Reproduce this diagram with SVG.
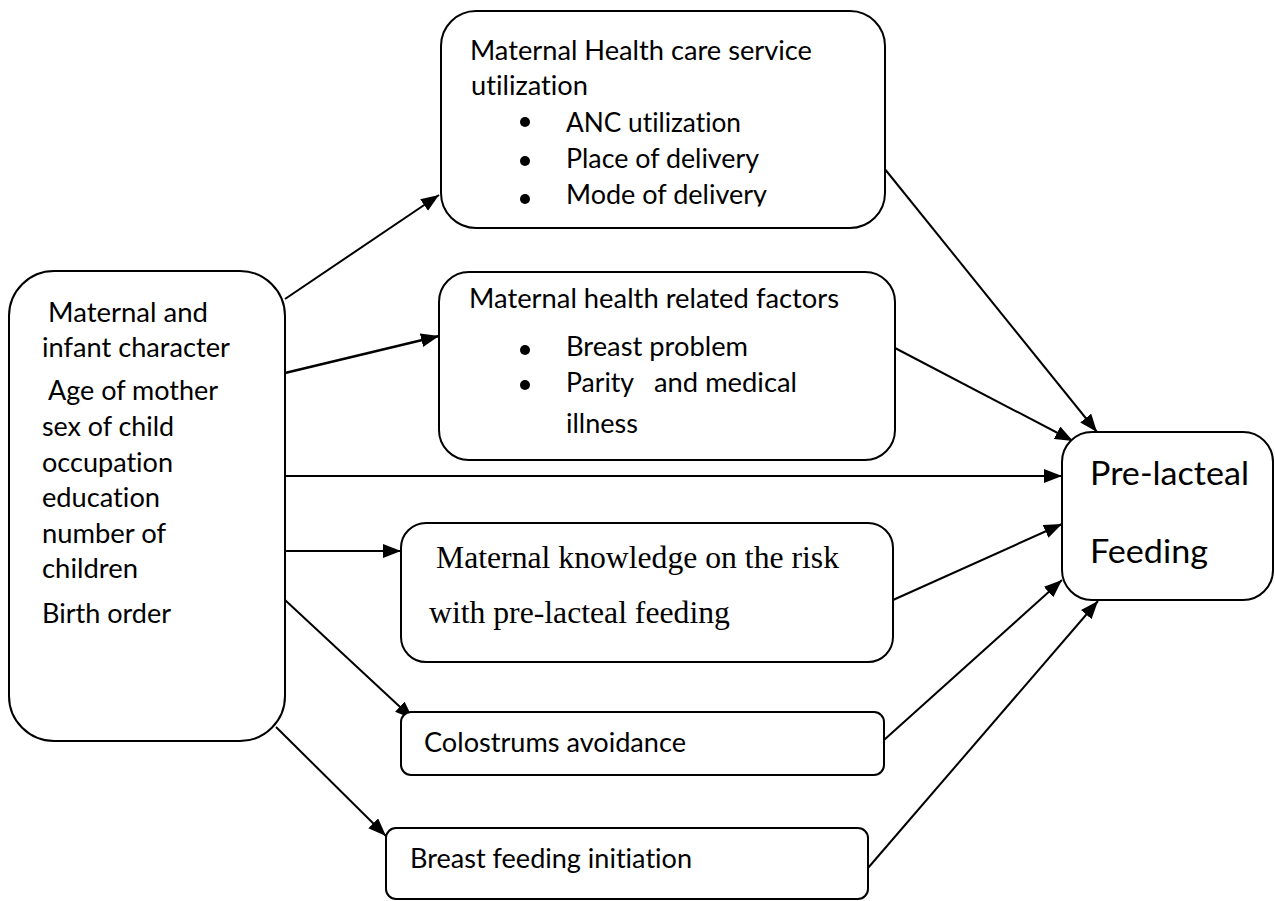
<svg xmlns="http://www.w3.org/2000/svg" width="1275" height="901" viewBox="0 0 1275 901">
<style>
.box{fill:#fff;stroke:#000;stroke-width:2}
.t{font-family:Lato,"Liberation Sans",sans-serif;font-size:26px;fill:#000;font-variant-ligatures:none;font-feature-settings:"liga" 0,"clig" 0,"dlig" 0}
.big{font-family:Lato,"Liberation Sans",sans-serif;font-size:33px;fill:#000;font-variant-ligatures:none;font-feature-settings:"liga" 0,"clig" 0}
.serif{font-family:"Liberation Serif","Times New Roman",serif;font-size:31.7px;fill:#000}
.c{stroke:#000;stroke-width:2;fill:none;marker-end:url(#ah)}
.dot{fill:#000}
</style>
<defs>
<marker id="ah" markerUnits="userSpaceOnUse" markerWidth="18" markerHeight="14" viewBox="0 0 18 14" refX="18" refY="7" orient="auto">
<path d="M0,0 L18,7 L0,14 z" fill="#000"/>
</marker>
<clipPath id="clipMode"><rect x="440" y="180" width="440" height="26.5"/></clipPath>
</defs>
<rect width="1275" height="901" fill="#fff"/>

<g id="connectors">
<line class="c" x1="285" y1="299" x2="439" y2="195"/>
<line class="c" x1="285" y1="373" x2="439" y2="336" style="stroke-width:2.5"/>
<line class="c" x1="285" y1="476" x2="1062" y2="476"/>
<line class="c" x1="285" y1="551" x2="401" y2="551"/>
<line class="c" x1="285" y1="600" x2="413" y2="719"/>
<line class="c" x1="276" y1="727" x2="386" y2="836"/>
<line class="c" x1="884" y1="168" x2="1097" y2="432"/>
<line class="c" x1="895" y1="348" x2="1073" y2="441"/>
<line class="c" x1="893" y1="600" x2="1062" y2="524"/>
<line class="c" x1="884" y1="740" x2="1062" y2="580"/>
<line class="c" x1="868" y1="868" x2="1098" y2="601"/>
</g>

<g id="maternal-infant">
<rect class="box" x="9" y="271" width="276" height="470" rx="45"/>
<text class="t" x="48" y="322" textLength="160" lengthAdjust="spacingAndGlyphs">Maternal and</text>
<text class="t" x="42" y="357" textLength="188" lengthAdjust="spacingAndGlyphs">infant character</text>
<text class="t" x="48" y="400" textLength="170" lengthAdjust="spacingAndGlyphs">Age of mother</text>
<text class="t" x="42" y="436" textLength="132" lengthAdjust="spacingAndGlyphs">sex of child</text>
<text class="t" x="42" y="472" textLength="131" lengthAdjust="spacingAndGlyphs">occupation</text>
<text class="t" x="42" y="507" textLength="118" lengthAdjust="spacingAndGlyphs">education</text>
<text class="t" x="42" y="543" textLength="124" lengthAdjust="spacingAndGlyphs">number of</text>
<text class="t" x="42" y="578" textLength="96" lengthAdjust="spacingAndGlyphs">children</text>
<text class="t" x="42" y="623" textLength="129" lengthAdjust="spacingAndGlyphs">Birth order</text>
</g>

<g id="health-care-service">
<rect class="box" x="441" y="11" width="444" height="217" rx="35"/>
<text class="t" x="470" y="60" textLength="342" lengthAdjust="spacingAndGlyphs">Maternal Health care service</text>
<text class="t" x="471" y="95" textLength="117" lengthAdjust="spacingAndGlyphs">utilization</text>
<circle class="dot" cx="525" cy="122" r="5"/>
<text class="t" x="566" y="132" textLength="175" lengthAdjust="spacingAndGlyphs">ANC utilization</text>
<circle class="dot" cx="525" cy="161" r="5"/>
<text class="t" x="566" y="168" textLength="193" lengthAdjust="spacingAndGlyphs">Place of delivery</text>
<circle class="dot" cx="525" cy="199" r="5"/>
<text class="t" x="566" y="204" textLength="201" lengthAdjust="spacingAndGlyphs" clip-path="url(#clipMode)">Mode of delivery</text>
</g>

<g id="health-factors">
<rect class="box" x="439" y="272" width="456" height="188" rx="30"/>
<text class="t" x="469" y="308" textLength="370" lengthAdjust="spacingAndGlyphs">Maternal health related factors</text>
<circle class="dot" cx="525" cy="350" r="5"/>
<text class="t" x="566" y="356" textLength="182" lengthAdjust="spacingAndGlyphs">Breast problem</text>
<circle class="dot" cx="525" cy="385" r="5"/>
<text class="t" y="392"><tspan x="566" textLength="68" lengthAdjust="spacingAndGlyphs">Parity</tspan><tspan x="654" textLength="143" lengthAdjust="spacingAndGlyphs">and medical</tspan></text>
<text class="t" x="566" y="433" textLength="72" lengthAdjust="spacingAndGlyphs">illness</text>
</g>

<g id="knowledge">
<rect class="box" x="401" y="523" width="492" height="139" rx="25"/>
<text class="serif" x="436" y="568">Maternal knowledge on the risk</text>
<text class="serif" x="429" y="623">with pre-lacteal feeding</text>
</g>

<g id="colostrum">
<rect class="box" x="401" y="712" width="483" height="63" rx="10"/>
<text class="t" x="424" y="752" textLength="262" lengthAdjust="spacingAndGlyphs">Colostrums avoidance</text>
</g>

<g id="breastfeeding">
<rect class="box" x="386" y="828" width="482" height="71" rx="10"/>
<text class="t" x="410" y="868" textLength="282" lengthAdjust="spacingAndGlyphs">Breast feeding initiation</text>
</g>

<g id="prelacteal">
<rect class="box" x="1062" y="432" width="211" height="168" rx="30"/>
<text class="big" x="1090" y="485" textLength="159" lengthAdjust="spacingAndGlyphs">Pre-lacteal</text>
<text class="big" x="1090" y="563" textLength="118" lengthAdjust="spacingAndGlyphs">Feeding</text>
</g>
</svg>
